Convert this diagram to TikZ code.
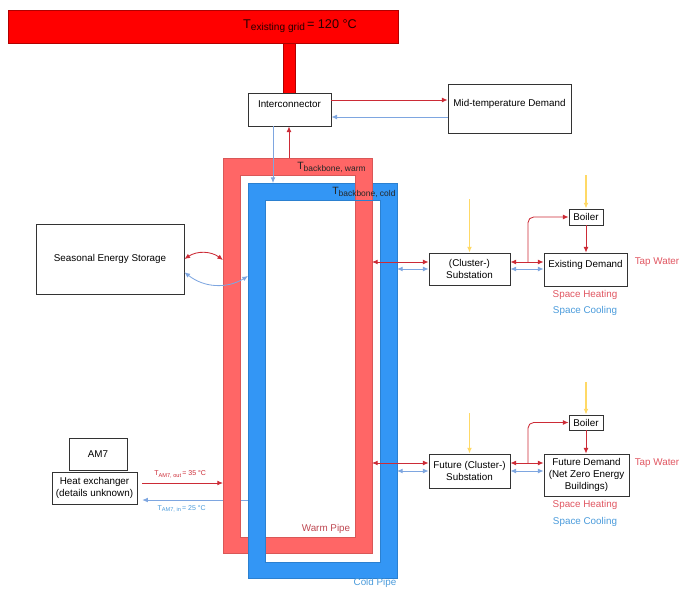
\documentclass[tikz,border=0pt]{standalone}
\usepackage{fontspec}
\usepackage{graphicx}
\setmainfont{Liberation Sans}
\usetikzlibrary{arrows.meta,shadows}

\definecolor{gridred}{HTML}{FF0000}
\definecolor{gridedge}{HTML}{B00000}
\definecolor{warmfill}{HTML}{FF6666}
\definecolor{coldfill}{HTML}{3396F5}
\definecolor{redline}{HTML}{CC2B36}
\definecolor{blueline}{HTML}{7EA6E0}
\definecolor{fuelline}{HTML}{FFD966}
\definecolor{redtext}{HTML}{E05560}
\definecolor{bluetext}{HTML}{4A9BDB}
\definecolor{boxedge}{HTML}{333333}

\newcommand{\lowsub}[1]{\raisebox{-0.4ex}{\scalebox{0.8}{#1}}}

\begin{document}
\begin{tikzpicture}[x=0.025cm, y=-0.025cm, >={Latex[length=4pt,width=3.4pt]},
	every node/.style={font=\fontsize{7}{8.4}\selectfont},
	box/.style={draw=boxedge, fill=white, line width=0.6pt, align=center, inner sep=1pt,
		drop shadow={shadow xshift=0.8pt, shadow yshift=-0.8pt, opacity=0.3}},
	uptext/.style={text height=0.15cm, text depth=0.27cm},
	warm/.style={draw=redline, line width=0.6pt},
	cold/.style={draw=blueline, line width=0.6pt},
	fuel/.style={draw=fuelline, line width=1.1pt, ->},
	pipetemp/.style={anchor=base west, inner sep=0pt, text=black!85, font=\fontsize{7.5}{9}\selectfont},
	flowtemp/.style={font=\fontsize{5}{6}\selectfont}]

	\useasboundingbox (0,0) rectangle (680,588);

	\fill[gridred, draw=gridedge, line width=0.4pt] (283,43) rectangle (295,93);
	\fill[gridred, draw=gridedge, line width=0.6pt] (8,10) rectangle (398,43);
	\node[font=\fontsize{9}{11}\selectfont, text=black!85!red] (gridlabel) at (300,26) {T\lowsub{existing grid}\,= 120 °C};

	\node[box, minimum width=1.45cm, minimum height=0.8cm] (am7) at (98,454) {AM7};
	\node[box, minimum width=2.125cm, minimum height=0.8cm] (hx) at (94.5,488) {Heat exchanger\\(details unknown)};
	\coordinate (warmleft2) at (223,483);
	\coordinate (coldleft2) at (248,500);
	\draw[cold, ->, shorten >=0.12cm] (coldleft2) -- (hx.east |- coldleft2)
		node[flowtemp, pos=0.6, below, text=bluetext] (amin) {T\lowsub{AM7, in}\,= 25 °C};

	\path[fill=warmfill, draw=warmfill!85!black, line width=0.4pt, even odd rule] (223,158) rectangle (372,553) (240,175) rectangle (355,537);
	\path[fill=coldfill, draw=coldfill!85!black, line width=0.4pt, even odd rule] (248,183) rectangle (397,578) (265,200) rectangle (380,562);
	\fill[warmfill] (355.2,183) rectangle (371.8,200);
	\draw[warmfill!85!black, line width=0.4pt] (355,183) -- (355,200) (372,183) -- (372,200);

	\node[pipetemp] (warmtemp) at (297,169) {T\lowsub{backbone, warm}};
	\node[pipetemp] (coldtemp) at (332,194) {T\lowsub{backbone, cold}};
	\node[text=redtext!85!black] (warmname) at (326,529) {Warm Pipe};
	\node[text=bluetext] (coldname) at (375,582.5) {Cold Pipe};

	\node[box, uptext, minimum width=2.075cm, minimum height=0.825cm] (inter) at (289.5,109.5) {Interconnector};
	\node[box, uptext, minimum width=3.075cm, minimum height=1.225cm] (midtemp) at (509.5,108.5) {Mid-temperature Demand};
	\node[box, minimum width=3.7cm, minimum height=1.75cm] (storage) at (110,259) {Seasonal Energy Storage};

	\node[box, minimum width=2.025cm, minimum height=0.8cm] (sub1) at (469.5,269) {(Cluster-)\\Substation};
	\node[box, uptext, minimum width=2.075cm, minimum height=0.825cm] (demand1) at (585.5,269.5) {Existing Demand};
	\node[box, minimum width=0.85cm, minimum height=0.4cm] (boiler1) at (586,217) {Boiler};

	\node[box, minimum width=2.025cm, minimum height=0.85cm] (sub2) at (469.5,471) {Future (Cluster-)\\Substation};
	\node[box, minimum width=2.125cm, minimum height=1.05cm] (demand2) at (586.5,475) {Future Demand\\(Net Zero Energy\\Buildings)};
	\node[box, minimum width=0.85cm, minimum height=0.375cm] (boiler2) at (586,422.5) {Boiler};

	\coordinate (intout) at ([yshift=0.2375cm]inter.east);
	\coordinate (intin) at ([yshift=-0.1875cm]inter.east);
	\coordinate (warmtop) at (289,158);
	\coordinate (coldtop) at (273,183);
	\draw[warm, ->] (intout) -- (intout -| midtemp.west);
	\draw[cold, ->] (midtemp.west |- intin) -- (intin);
	\draw[cold, ->] (inter.south -| coldtop) -- (coldtop);
	\draw[warm, ->] (warmtop) -- (inter.south -| warmtop);

	\coordinate (warmleft) at (223,260);
	\coordinate (coldleft) at (248,276);
	\draw[warm, <->] (storage.east) to[bend left=35] (warmleft);
	\draw[cold, <->] ([yshift=-0.33cm]storage.east) to[bend right=35] (coldleft);

	\coordinate (warmright1) at (372,262);
	\coordinate (coldright1) at (397,269);
	\coordinate (split1) at (528,262);
	\coordinate (fuel1) at (586,175);
	\coordinate (heat1) at (469.5,199);
	\draw[warm, <->] (warmright1) -- (sub1.west |- warmright1);
	\draw[cold, <->] (coldright1) -- (sub1.west);
	\draw[warm, <->] (sub1.east |- warmright1) -- (demand1.west |- warmright1);
	\draw[cold, <->] (sub1.east) -- (demand1.west |- sub1.east);
	\draw[warm, ->, rounded corners=4pt] (split1) |- (boiler1.west);
	\draw[warm, ->] (boiler1.south) -- (demand1.north -| boiler1.south);
	\draw[fuel] (fuel1) -- (boiler1.north);
	\draw[fuel] (heat1) -- (sub1.north);

	\coordinate (warmright2) at (372,463);
	\coordinate (coldright2) at (397,471);
	\coordinate (split2) at (528,463);
	\coordinate (fuel2) at (586,382);
	\coordinate (heat2) at (469.5,413);
	\draw[warm, <->] (warmright2) -- (sub2.west |- warmright2);
	\draw[cold, <->] (coldright2) -- (sub2.west);
	\draw[warm, <->] (sub2.east |- warmright2) -- (demand2.west |- warmright2);
	\draw[cold, <->] (sub2.east) -- (demand2.west |- sub2.east);
	\draw[warm, ->, rounded corners=4pt] (split2) |- (boiler2.west);
	\draw[warm, ->] (boiler2.south) -- (demand2.north -| boiler2.south);
	\draw[fuel] (fuel2) -- (boiler2.north);
	\draw[fuel] (heat2) -- (sub2.north);

	\node[text=redtext] (tap1) at (657,262) {Tap Water};
	\node[text=redtext] (heating1) at (585,295) {Space Heating};
	\node[text=bluetext] (cooling1) at (585,311) {Space Cooling};
	\node[text=redtext] (tap2) at (657,463) {Tap Water};
	\node[text=redtext] (heating2) at (585,505) {Space Heating};
	\node[text=bluetext] (cooling2) at (585,522) {Space Cooling};

	\draw[warm, ->, shorten <=0.12cm] (hx.east |- warmleft2) -- (warmleft2)
		node[flowtemp, midway, above, text=redline] (amout) {T\lowsub{AM7, out}\,= 35 °C};

\end{tikzpicture}
\end{document}
